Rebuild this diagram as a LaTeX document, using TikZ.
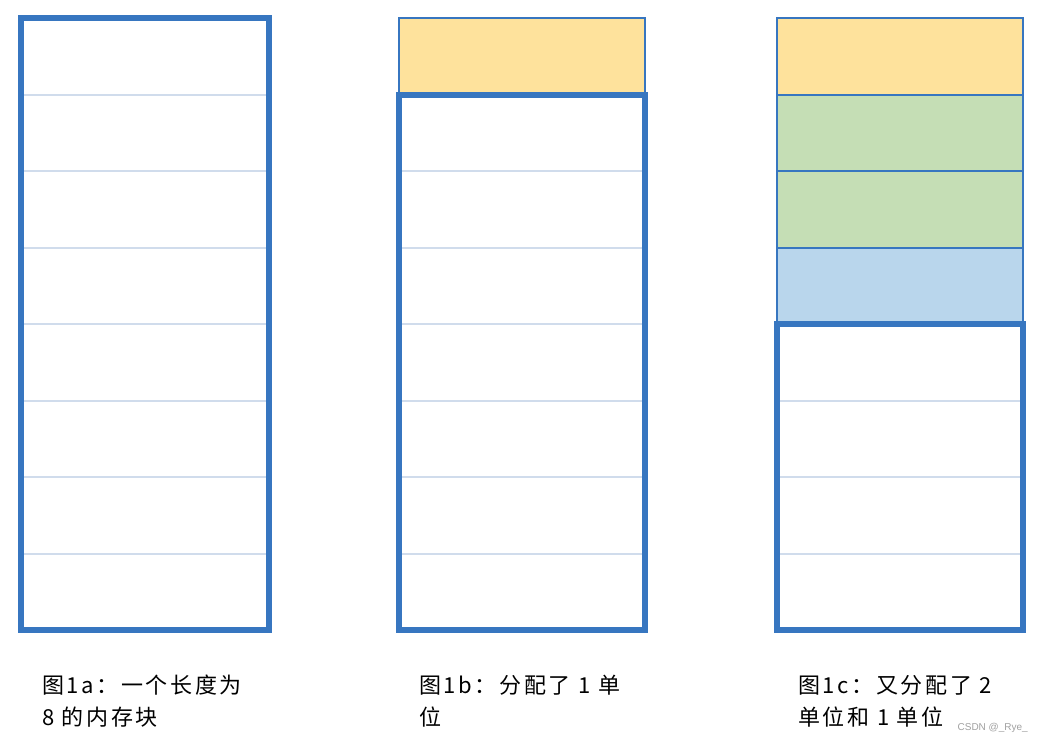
\documentclass[tikz,border=0pt]{standalone}
\usepackage{fontspec}
\newfontfamily\cjk[LetterSpace=12]{Noto Sans CJK SC}
\newfontfamily\marca{Liberation Sans}
\definecolor{azul}{RGB}{55,118,192}
\definecolor{linea}{RGB}{208,220,236}
\definecolor{amarillo}{RGB}{254,226,156}
\definecolor{verde}{RGB}{197,222,181}
\definecolor{celeste}{RGB}{185,214,236}
\definecolor{gris}{RGB}{160,160,160}

\begin{document}
\begin{tikzpicture}[
    x=1pt, y=-1pt,
    celda/.style={rectangle, draw=linea, line width=2pt, minimum width=246pt, minimum height=76.5pt, inner sep=0pt, outer sep=0pt},
    ocupada/.style={celda, draw=azul},
    bloque/.style={draw=azul, line width=6pt},
    pie/.style={font=\cjk\fontsize{22pt}{32pt}\selectfont, align=left, anchor=north west, inner sep=0pt}
]
\useasboundingbox (0,0) rectangle (1042,744);

% Fig. 1a: bloque libre de 8 unidades
\foreach \i in {0,...,7}
    \node[celda, minimum width=248pt] (a\i) at (145, {56.25+76.5*\i}) {};
\draw[bloque] (a0.north west) rectangle (a7.south east);

% Fig. 1b: 1 unidad asignada arriba
\node[ocupada, fill=amarillo] (b0) at (522, 56.25) {};
\foreach \i in {1,...,7}
    \node[celda] (b\i) at (522, {56.25+76.5*\i}) {};
\draw[bloque] (b1.north west) rectangle (b7.south east);

% Fig. 1c: 1 + 2 + 1 unidades asignadas
\node[ocupada, fill=amarillo] (c0) at (900, 56.25) {};
\node[ocupada, fill=verde] (c1) at (900, 132.75) {};
\node[ocupada, fill=verde] (c2) at (900, 209.25) {};
\node[ocupada, fill=celeste] (c3) at (900, 285.75) {};
\foreach \i in {4,...,7}
    \node[celda] (c\i) at (900, {56.25+76.5*\i}) {};
\draw[bloque] (c4.north west) rectangle (c7.south east);

% Pies de figura
\node[pie] (pa) at (42, 675) {图1a：一个长度为\\8 的内存块};
\node[pie] (pb) at (419, 675) {图1b：分配了 1 单\\位};
\node[pie] (pc) at (798, 675) {图1c：又分配了 2\\单位和 1 单位};
\node[font=\marca\fontsize{10pt}{12pt}\selectfont, text=gris, anchor=south east, inner sep=0pt] (wm) at (1028, 733) {CSDN @\_Rye\_};
\end{tikzpicture}
\end{document}
